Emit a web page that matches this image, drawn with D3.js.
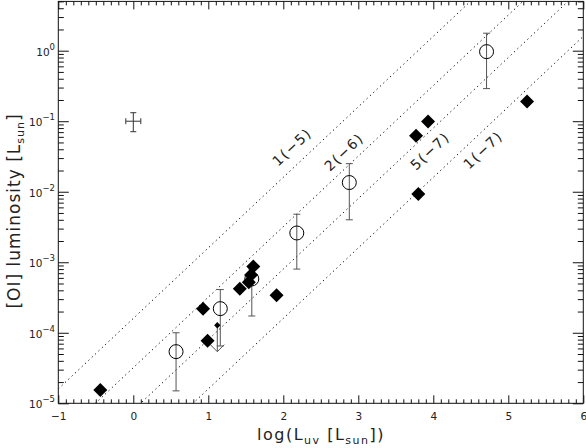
<!DOCTYPE html>
<html>
<head>
<meta charset="utf-8">
<script src="https://cdn.jsdelivr.net/npm/d3@7"></script>
<style>
  body { margin: 0; background: #fff; }
  svg { display: block; font-family: "DejaVu Sans", sans-serif; }
  .axis path { stroke: none; }
  .axis line { stroke: #111; }
</style>
</head>
<body>
<svg id="chart" width="586" height="448"></svg>
<script>
// filled diamonds (log L_uv, [OI] luminosity)
const diaX = [-0.44, 0.93, 0.99, 1.42, 1.54, 1.57, 1.60, 1.91, 3.77, 3.80, 3.93, 5.25];
const diaY = [1.55e-5, 2.2e-4, 7.7e-5, 4.2e-4, 5.2e-4, 6.6e-4, 8.7e-4, 3.4e-4, 6.2e-2, 9.3e-3, 9.9e-2, 0.19];

// open circles with error bars
const circX  = [0.57, 1.16, 1.58, 2.18, 2.88, 4.71];
const circY  = [5.4e-5, 2.2e-4, 5.8e-4, 2.6e-3, 1.35e-2, 0.97];
const circLo = [1.5e-5, 6.5e-5, 1.73e-4, 8.0e-4, 4.0e-3, 0.29];
const circHi = [1.0e-4, 4.1e-4, 8.0e-4, 4.8e-3, 2.5e-2, 1.77];

// upper limit (small diamond with arrow)
const limX = [1.12];
const limY = [1.28e-4];
const limTo = [5.4e-5];

// typical error cross
const crossX = [0], crossY = [0.1], crossDx = [0.1], crossLo = [0.071], crossHi = [0.132];

// dotted lines L_OI = 16 * eps * L_uv
const lineEps = [1e-5, 2e-6, 5e-7, 1e-7];
const lineLabels = ["1(\u22125)", "2(\u22126)", "5(\u22127)", "1(\u22127)"];
const lineFactor = 16;
const labelX = [2.116, 2.809, 3.956, 4.663];
const labelY = [0.0432, 0.0366, 0.0379, 0.0392];

const xMajor = [-1, 0, 1, 2, 3, 4, 5, 6];
const yMajor = [1e-5, 1e-4, 1e-3, 1e-2, 1e-1, 1];

const pL = 58.3, pR = 583.3, pT = 1.4, pB = 403.3;

const svg = d3.select("#chart");
const x = d3.scaleLinear().domain([-1, 6]).range([pL, pR]);
const y = d3.scaleLog().domain([1e-5, 5]).range([pB, pT]);

// minor ticks
const xMinor = d3.range(-10, 61).map(i => i / 10).filter(v => !Number.isInteger(v));
const yMinor = [];
for (let e = -5; e <= 0; e++) for (let k = 2; k <= 9; k++) { const v = k * Math.pow(10, e); if (v <= 5) yMinor.push(v); }

svg.append("defs").append("clipPath").attr("id", "clip")
  .append("rect").attr("x", pL).attr("y", pT).attr("width", pR - pL).attr("height", pB - pT);

// axes
const gx = svg.append("g").attr("class", "axis").attr("transform", `translate(0,${pB})`)
  .call(d3.axisBottom(x).tickValues(xMajor).tickSize(-8).tickPadding(9.6).tickFormat(d3.format("d")));
gx.selectAll("text").attr("font-size", 10.5).attr("font-family", "DejaVu Sans").attr("fill", "#222");
svg.append("g").attr("class", "axis").attr("transform", `translate(0,${pB})`)
  .call(d3.axisBottom(x).tickValues(xMinor).tickSize(-4).tickFormat(""));
svg.append("g").attr("class", "axis").attr("transform", `translate(0,${pT})`)
  .call(d3.axisTop(x).tickValues(xMajor).tickSize(-8).tickFormat(""));
svg.append("g").attr("class", "axis").attr("transform", `translate(0,${pT})`)
  .call(d3.axisTop(x).tickValues(xMinor).tickSize(-4).tickFormat(""));

const gy = svg.append("g").attr("class", "axis").attr("transform", `translate(${pL},0)`)
  .call(d3.axisLeft(y).tickValues(yMajor).tickSize(-10.5).tickPadding(3.3).tickFormat(""));
gy.selectAll(".tick text").each(function(d) {
  const t = d3.select(this);
  const e = Math.round(Math.log10(d));
  t.attr("dy", null).attr("y", 4.3).attr("font-size", 10.5).attr("font-family", "DejaVu Sans").attr("fill", "#222");
  t.append("tspan").text("10");
  t.append("tspan").attr("dy", -6).attr("font-size", 8.5).text(e < 0 ? "\u2212" + (-e) : e);
});
svg.append("g").attr("class", "axis").attr("transform", `translate(${pL},0)`)
  .call(d3.axisLeft(y).tickValues(yMinor).tickSize(-5.5).tickFormat(""));
svg.append("g").attr("class", "axis").attr("transform", `translate(${pR},0)`)
  .call(d3.axisRight(y).tickValues(yMajor).tickSize(-10.5).tickFormat(""));
svg.append("g").attr("class", "axis").attr("transform", `translate(${pR},0)`)
  .call(d3.axisRight(y).tickValues(yMinor).tickSize(-5.5).tickFormat(""));

svg.append("rect").attr("x", pL).attr("y", pT).attr("width", pR - pL).attr("height", pB - pT)
  .attr("fill", "none").attr("stroke", "#111");

// dotted lines
const line = d3.line().x(d => x(d[0])).y(d => y(d[1]));
const gl = svg.append("g").attr("clip-path", "url(#clip)");
lineEps.forEach(eps => {
  gl.append("path")
    .attr("d", line(x.domain().map(v => [v, lineFactor * eps * Math.pow(10, v)])))
    .attr("fill", "none").attr("stroke", "#000").attr("stroke-width", 1)
    .attr("stroke-dasharray", "1.2,3.4");
});
const angle = Math.atan2(y(10) - y(1), x(1) - x(0)) * 180 / Math.PI;
lineLabels.forEach((s, i) => {
  svg.append("text")
    .attr("transform", `translate(${x(labelX[i])},${y(labelY[i])}) rotate(${angle})`)
    .attr("text-anchor", "middle").attr("dominant-baseline", "central")
    .attr("font-size", 14).attr("letter-spacing", 1.5).attr("fill", "#222")
    .text(s);
});

const errColor = "#555";
// circle error bars
circX.forEach((cx, i) => {
  const g = svg.append("g").attr("stroke", errColor).attr("stroke-width", 1);
  g.append("line").attr("x1", x(cx)).attr("x2", x(cx)).attr("y1", y(circLo[i])).attr("y2", y(circHi[i]));
  [circLo[i], circHi[i]].forEach(v => g.append("line")
    .attr("x1", x(cx) - 3.5).attr("x2", x(cx) + 3.5).attr("y1", y(v)).attr("y2", y(v)));
});

// upper limit arrow
limX.forEach((lx, i) => {
  const g = svg.append("g").attr("stroke", errColor).attr("stroke-width", 1).attr("fill", "none");
  const px = x(lx), py0 = y(limY[i]), py1 = y(limTo[i]);
  g.append("line").attr("x1", px).attr("x2", px).attr("y1", py0).attr("y2", py1);
  g.append("path").attr("d", `M${px - 7},${py1 - 7}L${px},${py1}L${px + 7},${py1 - 7}`);
  svg.append("path").attr("d", d3.symbol(d3.symbolSquare, 20)())
    .attr("transform", `translate(${px},${py0}) rotate(45)`).attr("fill", "#000");
});

// error cross
crossX.forEach((cx, i) => {
  const g = svg.append("g").attr("stroke", "#333").attr("stroke-width", 1);
  const px = x(cx), py = y(crossY[i]);
  g.append("line").attr("x1", px).attr("x2", px).attr("y1", y(crossLo[i])).attr("y2", y(crossHi[i]));
  g.append("line").attr("x1", x(cx - crossDx[i])).attr("x2", x(cx + crossDx[i])).attr("y1", py).attr("y2", py);
  [crossLo[i], crossHi[i]].forEach(v => g.append("line")
    .attr("x1", px - 3).attr("x2", px + 3).attr("y1", y(v)).attr("y2", y(v)));
  [cx - crossDx[i], cx + crossDx[i]].forEach(v => g.append("line")
    .attr("x1", x(v)).attr("x2", x(v)).attr("y1", py - 3).attr("y2", py + 3));
});

// open circles
svg.append("g").selectAll("circle").data(circX).join("circle")
  .attr("cx", d => x(d)).attr("cy", (d, i) => y(circY[i])).attr("r", 7)
  .attr("fill", "none").attr("stroke", "#000").attr("stroke-width", 1);

// diamonds
svg.append("g").selectAll("path").data(diaX).join("path")
  .attr("d", d3.symbol(d3.symbolSquare, 98)())
  .attr("transform", (d, i) => `translate(${x(d)},${y(diaY[i])}) rotate(45)`)
  .attr("fill", "#000");

// axis titles
const xt = svg.append("text").attr("x", 321).attr("y", 440).attr("text-anchor", "middle")
  .attr("font-size", 16).attr("letter-spacing", 1.5).attr("fill", "#222");
xt.append("tspan").text("log(L");
xt.append("tspan").attr("font-size", 11).attr("dy", 4).text("uv");
xt.append("tspan").attr("dy", -4).text(" [L");
xt.append("tspan").attr("font-size", 11).attr("dy", 4).text("sun");
xt.append("tspan").attr("dy", -4).text("])");

const yt = svg.append("text").attr("transform", "translate(20,211) rotate(-90)").attr("text-anchor", "middle")
  .attr("font-size", 17).attr("letter-spacing", 1).attr("fill", "#222");
yt.append("tspan").text("[OI] luminosity [L");
yt.append("tspan").attr("font-size", 11).attr("dy", 4).text("sun");
yt.append("tspan").attr("dy", -4).text("]");
</script>
</body>
</html>
